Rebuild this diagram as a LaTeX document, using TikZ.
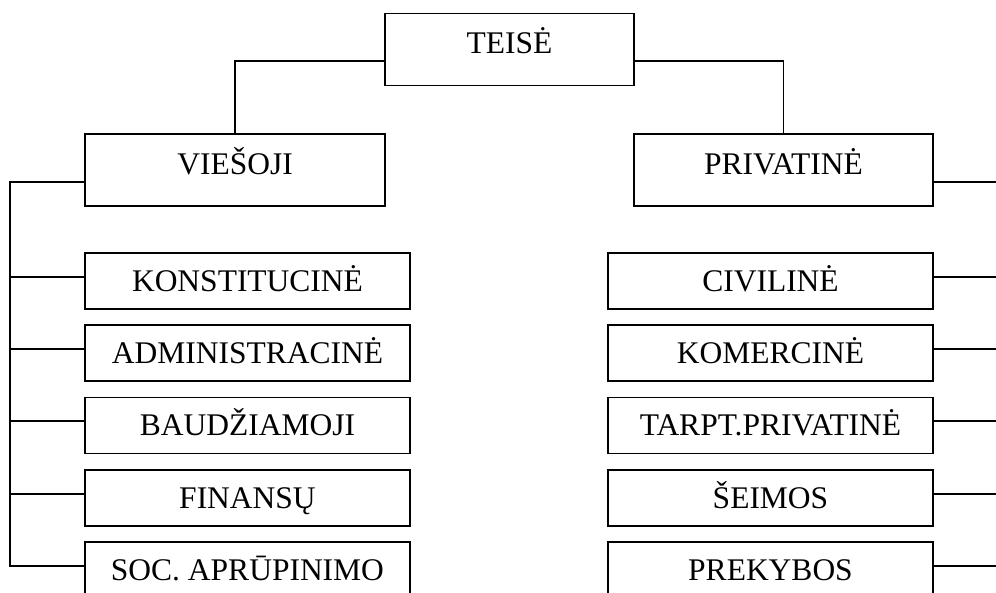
\documentclass[tikz,border=0pt]{standalone}
\usepackage{fontspec}
\setmainfont{Liberation Serif}
\begin{document}
\begin{tikzpicture}[x=1pt,y=-1pt,
  box/.style={draw,line width=1.9pt,inner sep=0pt,
    font=\fontsize{31.5}{36}\selectfont,text height=20.8pt,text depth=0pt},
  topbox/.style={box,text depth=12pt,minimum height=72pt},
  child/.style={box,minimum width=324.4pt,minimum height=56pt},
  link/.style={line width=1.9pt}]
\useasboundingbox (0,0) rectangle (996,592);
\clip (0,0) rectangle (996,592);
\node[topbox,minimum width=249pt] (teise) at (509.5,49.5) {TEISĖ};
\node[topbox,minimum width=299.6pt] (viesoji) at (235.2,169.6) {VIEŠOJI};
\node[topbox,minimum width=299.6pt] (privatine) at (783.5,169.6) {PRIVATINĖ};
% left children
\node[child] (konst) at (247.5,281.3) {KONSTITUCINĖ};
\node[child] (admin) at (247.5,353.4) {ADMINISTRACINĖ};
\node[child] (baud)  at (247.5,425.5) {BAUDŽIAMOJI};
\node[child] (fin)   at (247.5,497.7) {FINANSŲ};
\node[child] (soc)   at (247.5,569.8) {SOC. APRŪPINIMO};
% right children
\node[child] (civ)   at (770.5,281.3) {CIVILINĖ};
\node[child] (kom)   at (770.5,353.4) {KOMERCINĖ};
\node[child] (tarpt) at (770.5,425.5) {TARPT.PRIVATINĖ};
\node[child] (seim)  at (770.5,497.7) {ŠEIMOS};
\node[child] (prek)  at (770.5,569.8) {PREKYBOS};
% bus coordinates
\coordinate (lbus) at (10.3,0);
\coordinate (rbus) at (1002,0);
% top connectors
\draw[link] ([yshift=-11.8pt]teise.west) -| (viesoji.north);
\draw[link] ([yshift=-11.8pt]teise.east) -| (privatine.north);
% left bus
\coordinate (lbot) at ([yshift=4.1pt]soc.west);
\draw[link] ([yshift=-12.2pt]viesoji.west) -| (lbus |- lbot) -- (lbot);
\foreach \n in {konst,admin,baud,fin}{
  \coordinate (c-\n) at ([yshift=4.1pt]\n.west);
  \draw[link] (c-\n) -- (c-\n -| lbus);
}
% right bus
\coordinate (rbot) at ([yshift=4.1pt]prek.east);
\draw[link] ([yshift=-12.2pt]privatine.east) -| (rbus |- rbot) -- (rbot);
\foreach \n in {civ,kom,tarpt,seim}{
  \coordinate (c-\n) at ([yshift=4.1pt]\n.east);
  \draw[link] (c-\n) -- (c-\n -| rbus);
}
\end{tikzpicture}
\end{document}
